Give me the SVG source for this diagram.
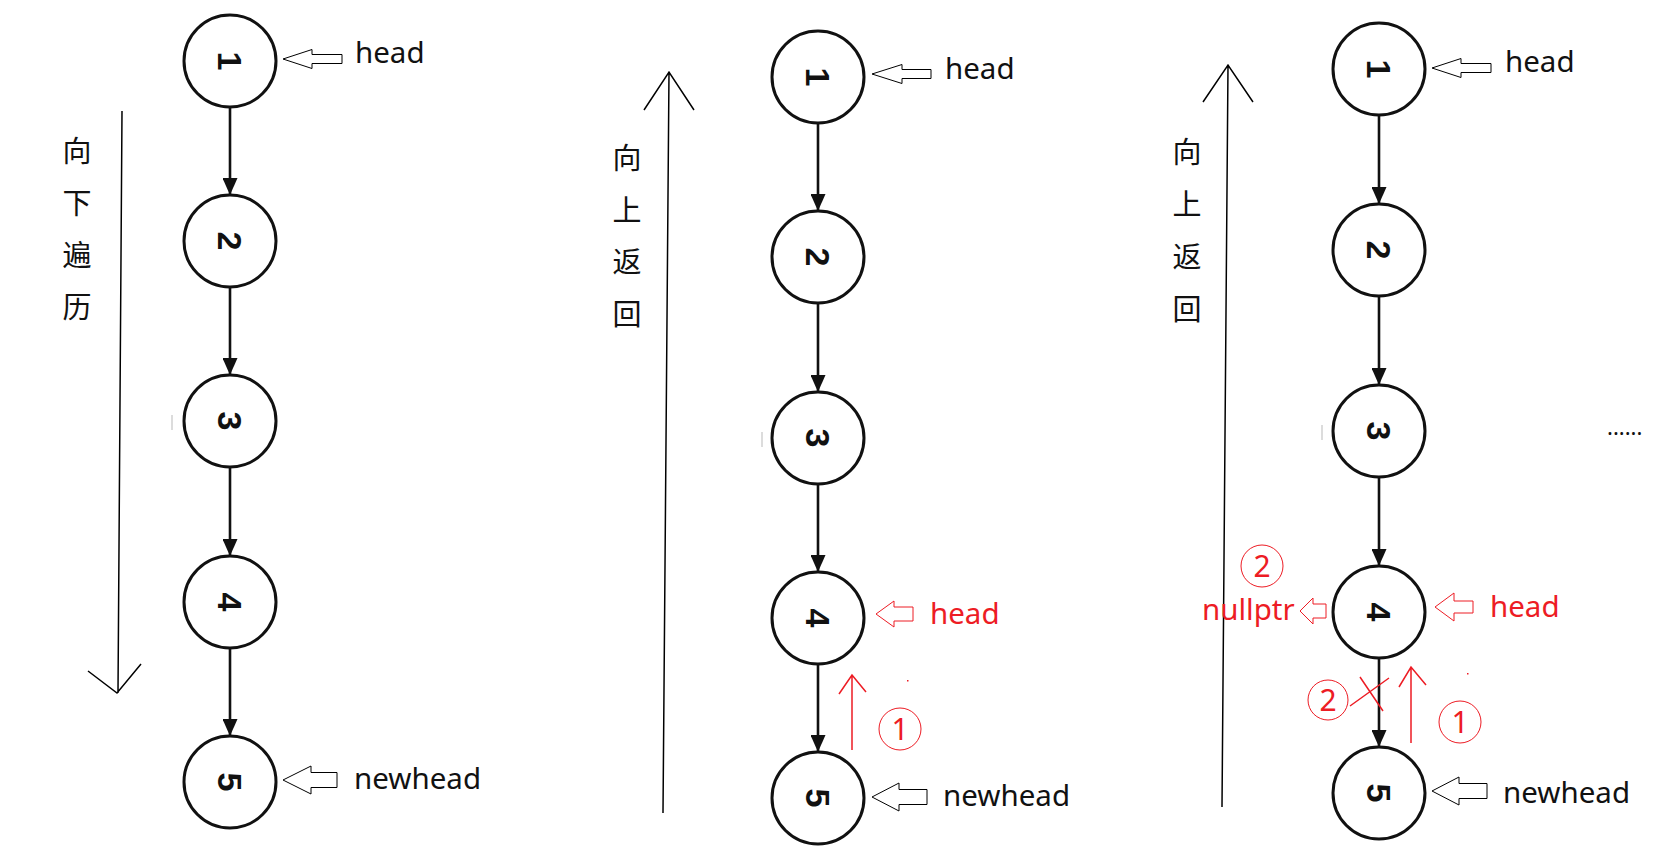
<svg xmlns="http://www.w3.org/2000/svg" width="1668" height="859" viewBox="0 0 1668 859">
<defs>
<style>
.node circle{fill:#fff;stroke:#111;stroke-width:3}
.num{font-family:"Liberation Sans",Arial,sans-serif;font-weight:bold;font-size:34px;text-anchor:middle;fill:#111}
.edge{stroke:#111;stroke-width:2.6;fill:none}
.big{stroke:#000;stroke-width:1.5;fill:none}
.lbl{font-family:"Noto Sans","Open Sans",sans-serif;font-size:29.5px;fill:#111}
.red{fill:#ed1c24}
.cn{font-family:"Noto Sans CJK SC","Noto Sans",sans-serif;font-size:29px;fill:#111;text-anchor:middle}
.blk{fill:#fff;stroke:#000;stroke-width:1}
.rblk{fill:#fff;stroke:#ed1c24;stroke-width:1}
.rl{stroke:#ed1c24;stroke-width:1.5;fill:none}
.rc{fill:none;stroke:#ed1c24;stroke-width:1}
.rn{font-family:"Noto Sans","Open Sans",sans-serif;font-size:30px;fill:#ed1c24;text-anchor:middle}
.tick{stroke:#d0d0d0;stroke-width:1.5}
</style>
<marker id="ah" markerUnits="userSpaceOnUse" markerWidth="17" markerHeight="15" refX="17" refY="7.5" orient="auto">
<path d="M0,0 L17,7.5 L0,15 z" fill="#111"/>
</marker>
</defs>
<rect width="1668" height="859" fill="#fff"/>

<!-- big direction arrows -->
<g id="direction-arrows">
<path class="big" d="M122,111 L118,693 M88,671 L117,693 L141,664"/>
<path class="big" d="M663,813 L669,72 M644,110 L669,72 L694,110"/>
<path class="big" d="M1222,807 L1228,65 M1203,102 L1228,65 L1253,102"/>
</g>

<g id="direction-labels">
<text class="cn" x="77" y="162">向</text>
<text class="cn" x="77" y="214">下</text>
<text class="cn" x="77" y="266">遍</text>
<text class="cn" x="77" y="318">历</text>
<text class="cn" x="627" y="169">向</text>
<text class="cn" x="627" y="221">上</text>
<text class="cn" x="627" y="273">返</text>
<text class="cn" x="627" y="325">回</text>
<text class="cn" x="1187" y="163">向</text>
<text class="cn" x="1187" y="215">上</text>
<text class="cn" x="1187" y="268">返</text>
<text class="cn" x="1187" y="320">回</text>
</g>

<!-- connectors -->
<g id="connectors">
<line class="edge" x1="230" y1="108" x2="230" y2="195" marker-end="url(#ah)"/>
<line class="edge" x1="230" y1="288" x2="230" y2="375" marker-end="url(#ah)"/>
<line class="edge" x1="230" y1="468" x2="230" y2="556" marker-end="url(#ah)"/>
<line class="edge" x1="230" y1="649" x2="230" y2="736" marker-end="url(#ah)"/>

<line class="edge" x1="818" y1="124" x2="818" y2="211" marker-end="url(#ah)"/>
<line class="edge" x1="818" y1="304" x2="818" y2="392" marker-end="url(#ah)"/>
<line class="edge" x1="818" y1="485" x2="818" y2="572" marker-end="url(#ah)"/>
<line class="edge" x1="818" y1="665" x2="818" y2="752" marker-end="url(#ah)"/>

<line class="edge" x1="1379" y1="116" x2="1379" y2="204" marker-end="url(#ah)"/>
<line class="edge" x1="1379" y1="297" x2="1379" y2="385" marker-end="url(#ah)"/>
<line class="edge" x1="1379" y1="478" x2="1379" y2="566" marker-end="url(#ah)"/>
<line class="edge" x1="1379" y1="659" x2="1379" y2="747" marker-end="url(#ah)"/>
</g>

<!-- column 1 nodes -->
<g id="c1n1" class="node"><circle cx="230" cy="61" r="46"/><text class="num" transform="translate(230,61) rotate(90)" y="12">1</text></g>
<g id="c1n2" class="node"><circle cx="230" cy="241" r="46"/><text class="num" transform="translate(230,241) rotate(90)" y="12">2</text></g>
<g id="c1n3" class="node"><circle cx="230" cy="421" r="46"/><text class="num" transform="translate(230,421) rotate(90)" y="12">3</text></g>
<g id="c1n4" class="node"><circle cx="230" cy="602" r="46"/><text class="num" transform="translate(230,602) rotate(90)" y="12">4</text></g>
<g id="c1n5" class="node"><circle cx="230" cy="782" r="46"/><text class="num" transform="translate(230,782) rotate(90)" y="12">5</text></g>

<!-- column 2 nodes -->
<g id="c2n1" class="node"><circle cx="818" cy="77" r="46"/><text class="num" transform="translate(818,77) rotate(90)" y="12">1</text></g>
<g id="c2n2" class="node"><circle cx="818" cy="257" r="46"/><text class="num" transform="translate(818,257) rotate(90)" y="12">2</text></g>
<g id="c2n3" class="node"><circle cx="818" cy="438" r="46"/><text class="num" transform="translate(818,438) rotate(90)" y="12">3</text></g>
<g id="c2n4" class="node"><circle cx="818" cy="618" r="46"/><text class="num" transform="translate(818,618) rotate(90)" y="12">4</text></g>
<g id="c2n5" class="node"><circle cx="818" cy="798" r="46"/><text class="num" transform="translate(818,798) rotate(90)" y="12">5</text></g>

<!-- column 3 nodes -->
<g id="c3n1" class="node"><circle cx="1379" cy="69" r="46"/><text class="num" transform="translate(1379,69) rotate(90)" y="12">1</text></g>
<g id="c3n2" class="node"><circle cx="1379" cy="250" r="46"/><text class="num" transform="translate(1379,250) rotate(90)" y="12">2</text></g>
<g id="c3n3" class="node"><circle cx="1379" cy="431" r="46"/><text class="num" transform="translate(1379,431) rotate(90)" y="12">3</text></g>
<g id="c3n4" class="node"><circle cx="1379" cy="612" r="46"/><text class="num" transform="translate(1379,612) rotate(90)" y="12">4</text></g>
<g id="c3n5" class="node"><circle cx="1379" cy="793" r="46"/><text class="num" transform="translate(1379,793) rotate(90)" y="12">5</text></g>

<!-- faint ticks -->
<g id="ticks">
<line class="tick" x1="172" y1="415" x2="172" y2="430"/>
<line class="tick" x1="762" y1="432" x2="762" y2="447"/>
<line class="tick" x1="1322" y1="425" x2="1322" y2="440"/>
</g>

<!-- pointer labels -->
<g id="pointers">
<polygon class="blk" points="283,59 312,49.5 312,54.5 342,54.5 342,63.5 312,63.5 312,68.5"/>
<text class="lbl" x="355" y="63">head</text>
<polygon class="blk" points="283,780 311,766 311,772.5 337,772.5 337,787.5 311,787.5 311,794"/>
<text class="lbl" x="354" y="789">newhead</text>

<polygon class="blk" points="872,74 902,64.5 902,69.5 931,69.5 931,78.5 902,78.5 902,83.5"/>
<text class="lbl" x="945" y="79">head</text>
<polygon class="blk" points="872,797 899,783 899,789.5 927,789.5 927,804.5 899,804.5 899,811"/>
<text class="lbl" x="943" y="806">newhead</text>

<polygon class="blk" points="1432,68 1461,58.5 1461,63.5 1491,63.5 1491,72.5 1461,72.5 1461,77.5"/>
<text class="lbl" x="1505" y="72">head</text>
<polygon class="blk" points="1432,791 1459,777 1459,783.5 1487,783.5 1487,798.5 1459,798.5 1459,805"/>
<text class="lbl" x="1503" y="803">newhead</text>
</g>

<!-- red annotations column 2 -->
<g id="c2-annot">
<polygon class="rblk" points="876,614 894,601 894,607 913,607 913,621 894,621 894,627"/>
<text class="lbl red" x="930" y="624">head</text>
<path class="rl" d="M852,750 L852,675 M839,694 L852,675 L866,692"/>
<circle class="rc" cx="900" cy="729" r="21"/>
<text class="rn" x="900" y="740">1</text>
<rect x="907" y="680" width="1.5" height="1.5" fill="#ed1c24"/>
</g>

<!-- red annotations column 3 -->
<g id="c3-annot">
<polygon class="rblk" points="1435,607 1454,593 1454,601 1473,601 1473,613 1454,613 1454,621"/>
<text class="lbl red" x="1490" y="617">head</text>
<polygon class="rblk" points="1300,611 1313,598 1313,604 1326,604 1326,618 1313,618 1313,624"/>
<text class="lbl red" x="1202" y="620">nullptr</text>
<circle class="rc" cx="1262" cy="566" r="21"/>
<text class="rn" x="1262" y="577">2</text>
<circle class="rc" cx="1328" cy="700" r="20"/>
<text class="rn" x="1328" y="711">2</text>
<path class="rl" d="M1360,677 L1383,711 M1350,706 L1389,678" stroke-width="1"/>
<path class="rl" d="M1411,743 L1411,667 M1399,687 L1411,667 L1426,685"/>
<circle class="rc" cx="1460" cy="722" r="21"/>
<text class="rn" x="1460" y="733">1</text>
<rect x="1467" y="673" width="1.5" height="1.5" fill="#ed1c24"/>
</g>

<text x="1607" y="435" style="font-family:'Noto Sans',sans-serif;font-size:22px;fill:#111">......</text>
</svg>
